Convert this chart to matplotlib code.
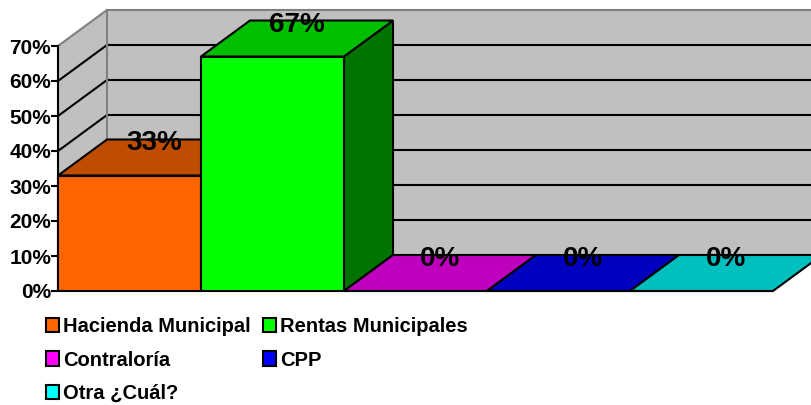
import matplotlib
matplotlib.use("Agg")
import matplotlib.pyplot as plt
from matplotlib.patches import Polygon, Patch
from matplotlib.colors import to_rgb

categories = ["Hacienda Municipal", "Rentas Municipales", "Contraloría", "CPP", "Otra ¿Cuál?"]
values = [33, 67, 0, 0, 0]
colors = ["#FF6600", "#00FF00", "#FF00FF", "#0000FF", "#00FFFF"]
yticks = [0, 10, 20, 30, 40, 50, 60, 70]

W, H = 812, 405
fig = plt.figure(figsize=(W / 100, H / 100), dpi=100)
ax = fig.add_axes([58 / W, (H - 291) / H, (773 - 58) / W, (291 - 46) / H])
ax.set_xlim(0, len(categories))
ax.set_ylim(0, 70)

# depth offset of the 3d look (in data units)
dx = 49 / 143
dy = 36 / 3.5
ymax = 70
n = len(categories)
lw = 1.5


def shade(c, f):
    r, g, b = to_rgb(c)
    return (r * f, g * f, b * f)


def poly(pts, fc, ec="black", z=1, lw=lw):
    ax.add_patch(Polygon(pts, closed=True, facecolor=fc, edgecolor=ec, linewidth=lw,
                         joinstyle="miter", clip_on=False, zorder=z))


# walls
poly([(dx, dy), (n + dx, dy), (n + dx, ymax + dy), (dx, ymax + dy)], "#C0C0C0", ec="none", z=0)
poly([(0, 0), (dx, dy), (dx, ymax + dy), (0, ymax)], "#C0C0C0", ec="none", z=0)
for v in yticks[1:-1]:
    ax.plot([0, dx, n + dx], [v, v + dy, v + dy], color="black", lw=lw, clip_on=False, zorder=0.5)
ax.plot([0, dx, n + dx], [ymax, ymax + dy, ymax + dy], color="#808080", lw=lw, clip_on=False, zorder=0.5)
ax.plot([dx, dx], [dy, ymax + dy], color="#808080", lw=lw, clip_on=False, zorder=0.5)

# bars
for i, (v, c) in enumerate(zip(values, colors)):
    x0, x1 = i, i + 1
    z = 2 + i
    if v > 0:
        poly([(x1, 0), (x1 + dx, dy), (x1 + dx, v + dy), (x1, v)], shade(c, 0.45), z=z)
    poly([(x0, v), (x1, v), (x1 + dx, v + dy), (x0 + dx, v + dy)], shade(c, 0.75), z=z)
    poly([(x0, 0), (x1, 0), (x1, v), (x0, v)], c, z=z)
    ax.text(i + 0.5 + dx / 2, v + dy / 2 + 2, f"{v}%", ha="center", va="baseline",
            fontsize=20, fontweight="bold", family="Liberation Sans", clip_on=False, zorder=20)

ax.set_xticks([])
ax.set_yticks(yticks)
ax.set_yticklabels([f"{v}%" for v in yticks], fontsize=15, fontweight="bold", family="Liberation Sans")
ax.tick_params(axis="y", length=5, width=lw, pad=0, color="black")
for s in ["top", "right", "bottom"]:
    ax.spines[s].set_visible(False)
ax.spines["left"].set_linewidth(lw)
ax.spines["left"].set_zorder(1)
ax.patch.set_visible(False)

# legend, filled row by row
order = [0, 2, 4, 1, 3]
handles = [Patch(facecolor=colors[k], edgecolor="black", linewidth=lw, label=categories[k]) for k in order]
fig.legend(handles=handles, loc="upper left", bbox_to_anchor=(46 / W, 1 - 317 / H), ncol=2,
           frameon=False, borderaxespad=0, borderpad=0, handlelength=0.65, handleheight=0.75,
           handletextpad=0.2, columnspacing=0.6, labelspacing=0.72,
           prop={"family": "Liberation Sans", "weight": "bold", "size": 14.5})

fig.savefig("out.png", dpi=100)
